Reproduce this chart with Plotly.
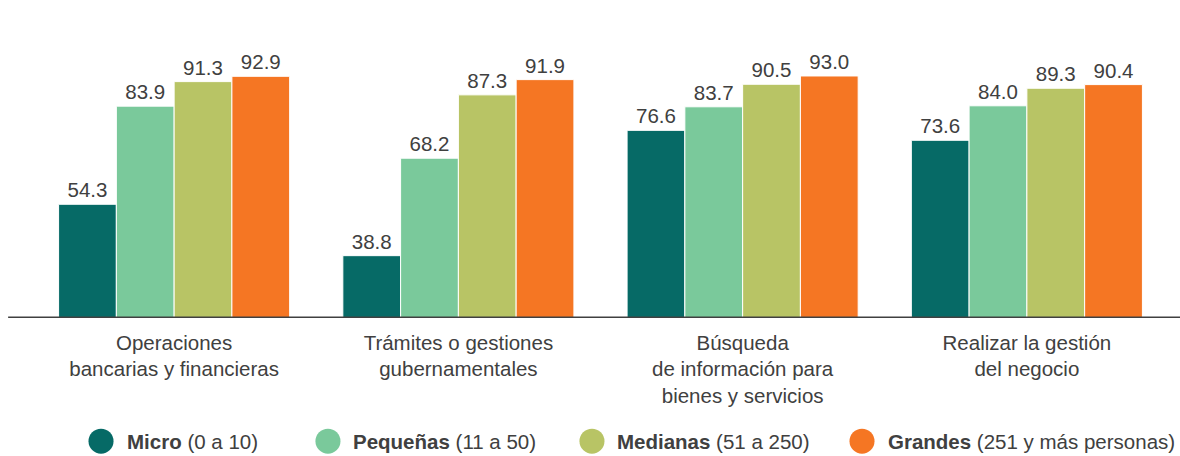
import plotly.graph_objects as go

# categories (x axis) and series
categories = [
    "Operaciones<br>bancarias y financieras",
    "Trámites o gestiones<br>gubernamentales",
    "Búsqueda<br>de información para<br>bienes y servicios",
    "Realizar la gestión<br>del negocio",
]
series_names = ["Micro", "Pequeñas", "Medianas", "Grandes"]
series_ranges = ["(0 a 10)", "(11 a 50)", "(51 a 250)", "(251 y más personas)"]
micro = [54.3, 38.8, 76.6, 73.6]
pequenas = [83.9, 68.2, 83.7, 84.0]
medianas = [91.3, 87.3, 90.5, 89.3]
grandes = [92.9, 91.9, 93.0, 90.4]
colors = ["#066a66", "#7ac99b", "#b8c465", "#f57623"]

values = [micro, pequenas, medianas, grandes]
font_color = "#404040"
font_family = "Liberation Sans, Arial, sans-serif"

fig = go.Figure()
for name, vals, col in zip(series_names, values, colors):
    fig.add_trace(go.Bar(
        x=categories, y=vals, name=name,
        marker=dict(color=col, line=dict(color="white", width=1)),
        text=[f"{v:.1f}" for v in vals],
        textposition="outside", cliponaxis=False,
        textfont=dict(size=20.5, color=font_color, family=font_family),
        showlegend=False,
    ))

# legend drawn by hand so the circles can be as big as in the original
dot_x = [0.0607, 0.2603, 0.4925, 0.730]
lab_x = [0.0818, 0.2806, 0.5128, 0.7511]
leg_y = -0.4
anns = []
shapes = [dict(type="line", xref="paper", yref="y", x0=-0.021, x1=1.01,
               y0=20, y1=20, line=dict(color="#404040", width=3))]
for i, (name, rng, col) in enumerate(zip(series_names, series_ranges, colors)):
    shapes.append(dict(type="circle", xref="paper", yref="paper",
                       xsizemode="pixel", ysizemode="pixel",
                       xanchor=dot_x[i], yanchor=leg_y,
                       x0=-12.5, x1=12.5, y0=-12.5, y1=12.5,
                       fillcolor=col, line=dict(width=0)))
    anns.append(dict(x=lab_x[i], y=leg_y, xref="paper", yref="paper",
                     text=f"<b>{name}</b> {rng}", showarrow=False,
                     xanchor="left", yanchor="middle",
                     font=dict(size=20.5, color=font_color, family=font_family)))

fig.update_layout(
    width=1180, height=456,
    margin=dict(l=32, r=11, t=10, b=138),
    plot_bgcolor="white", paper_bgcolor="white",
    barmode="group", bargap=0.187, bargroupgap=0,
    font=dict(family=font_family, color=font_color, size=20.5),
    annotations=anns,
    shapes=shapes,
)
fig.update_xaxes(showline=False, ticks="", showgrid=False, automargin=False,
                 ticklabelstandoff=10,
                 tickfont=dict(size=20.5, color=font_color))
fig.update_yaxes(range=[20, 112.9], visible=False, showgrid=False)

fig.write_html("out.html", config={"displayModeBar": False},
               post_script="document.body.style.margin='0';")
